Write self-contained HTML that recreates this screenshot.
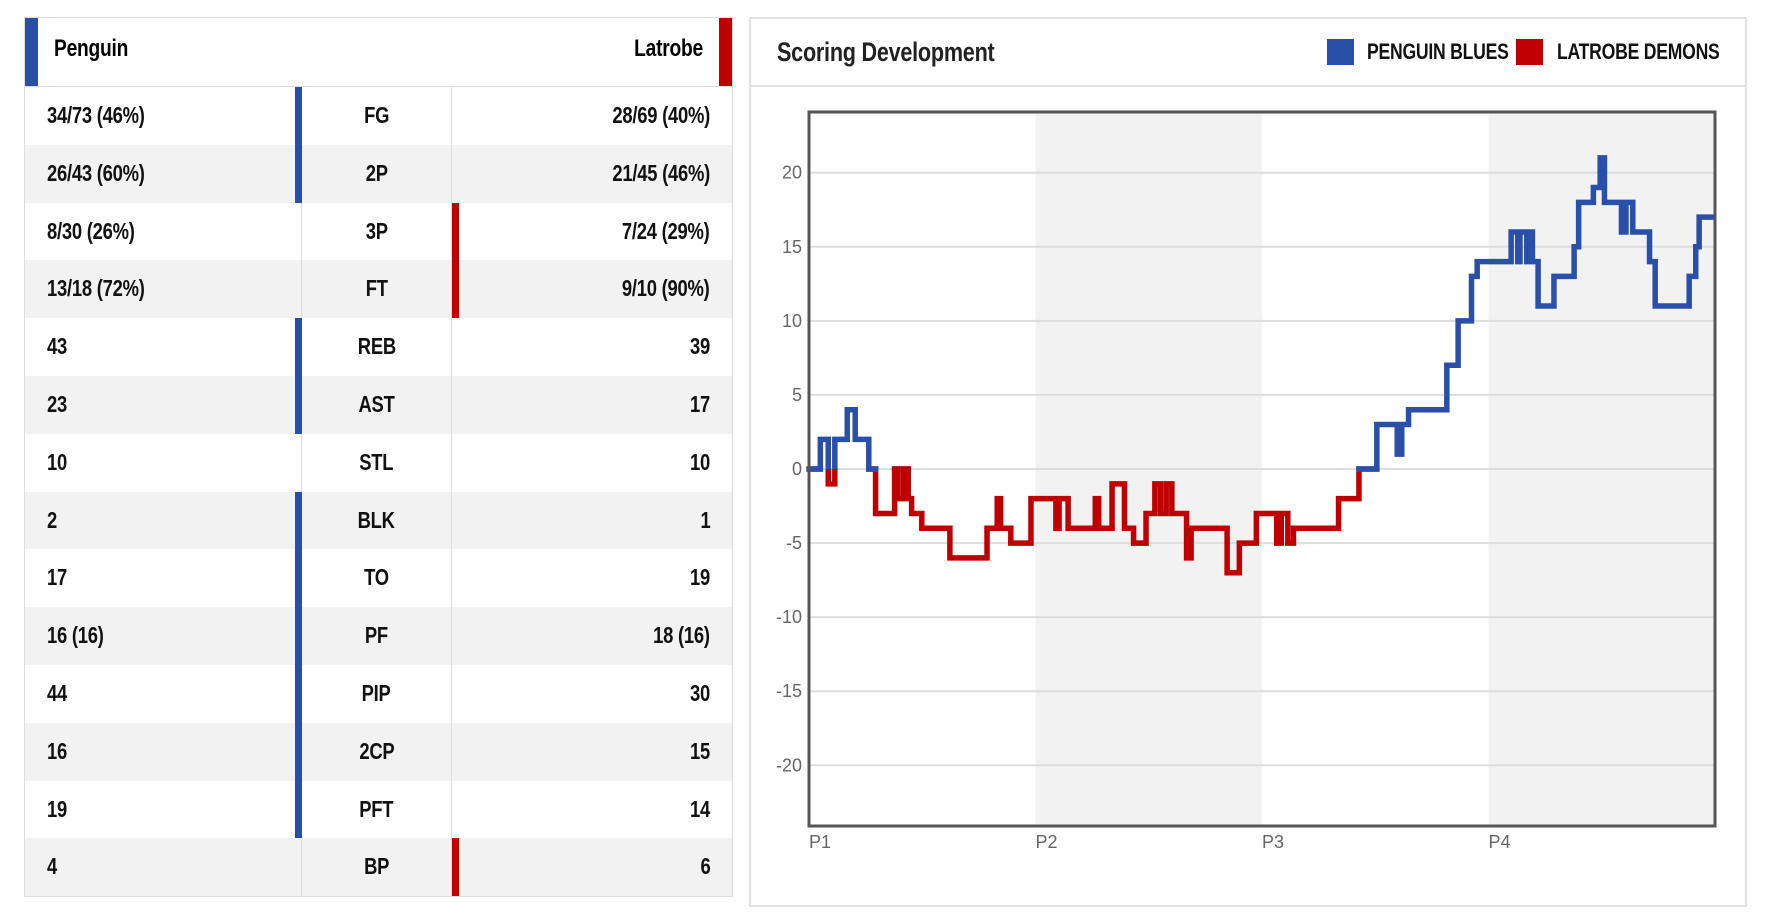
<!DOCTYPE html>
<html><head><meta charset="utf-8">
<style>
body{margin:0;width:1765px;height:923px;background:#fff;font-family:"Liberation Sans",sans-serif;overflow:hidden;position:relative}
.n{display:inline-block;transform:scaleX(.8);letter-spacing:-0.3px}
.tbl{position:absolute;left:24px;top:17px;width:709px;border:1px solid #ddd;box-sizing:border-box}
.hdr{position:relative;height:68px;border-bottom:1px solid #ddd;font-weight:bold;font-size:24px}
.row{position:relative;height:57.8px;font-weight:bold;font-size:23px;color:#111}
.row:nth-child(even){background:#f2f2f2}
.c{position:absolute;top:0;height:100%;line-height:57px}
.mid{left:276px;width:151px;text-align:center;border-left:1px solid #ddd;border-right:1px solid #ddd;height:100%;box-sizing:border-box}
.bar{position:absolute;top:0;width:7px;height:100%}
.panel{position:absolute;left:749px;top:17px;width:998px;height:890px;border:2px solid #e2e2e2;box-sizing:border-box}
</style></head><body>
<div class="tbl">
 <div class="hdr">
  <div style="position:absolute;left:0;top:0;width:13px;height:68px;background:#2a4fa8"></div>
  <div style="position:absolute;left:29px;top:0;line-height:62px"><span class="n" style="transform-origin:left">Penguin</span></div>
  <div style="position:absolute;right:29px;top:0;line-height:62px"><span class="n" style="transform-origin:right">Latrobe</span></div>
  <div style="position:absolute;right:0;top:0;width:13px;height:68px;background:#c00000"></div>
 </div>
 <div id="rows"></div>
</div>
<div class="panel">
 <div style="position:absolute;left:0;top:0;width:994px;height:66px;border-bottom:2px solid #e2e2e2;white-space:nowrap">
  <div style="position:absolute;left:26px;top:0;line-height:66px;font-weight:bold;font-size:27px;color:#222"><span class="n" style="transform-origin:left">Scoring Development</span></div>
  <div style="position:absolute;left:576px;top:20px;width:27px;height:26px;background:#2a4fa8"></div>
  <div style="position:absolute;left:616px;top:0;line-height:66px;font-weight:bold;font-size:22px;color:#111"><span class="n" style="transform-origin:left">PENGUIN BLUES</span></div>
  <div style="position:absolute;left:765px;top:20px;width:27px;height:26px;background:#c00000"></div>
  <div style="position:absolute;left:806px;top:0;line-height:66px;font-weight:bold;font-size:22px;color:#111"><span class="n" style="transform-origin:left">LATROBE DEMONS</span></div>
 </div>
</div>
<svg id="chart" width="1765" height="923" style="position:absolute;left:0;top:0"></svg>
<script>
const statLabels=["FG","2P","3P","FT","REB","AST","STL","BLK","TO","PF","PIP","2CP","PFT","BP"];
const penguinVals=["34/73 (46%)","26/43 (60%)","8/30 (26%)","13/18 (72%)","43","23","10","2","17","16 (16)","44","16","19","4"];
const latrobeVals=["28/69 (40%)","21/45 (46%)","7/24 (29%)","9/10 (90%)","39","17","10","1","19","18 (16)","30","15","14","6"];
const leaders=["P","P","L","L","P","P","","P","P","P","P","P","P","L"];
const rows=document.getElementById('rows');
statLabels.forEach((s,i)=>{
 const r=document.createElement('div');r.className='row';
 
 
 r.innerHTML='<div class="c" style="left:22px"><span class="n" style="transform-origin:left">'+penguinVals[i]+'</span></div>'+
 '<div class="c mid"><span class="n">'+s+'</span></div>'+
 '<div class="c" style="right:22px"><span class="n" style="transform-origin:right">'+latrobeVals[i]+'</span></div>'+
 (leaders[i]=='P'?'<div class="bar" style="left:270px;background:#2a4fa8"></div>':'')+
 (leaders[i]=='L'?'<div class="bar" style="left:427px;background:#c00000"></div>':'');
 rows.appendChild(r);
});

const times=[0,0.5,0.85,1.14,1.69,2.04,2.64,2.94,3.78,3.93,4.18,4.38,4.53,4.98,6.22,7.86,8.31,8.46,8.91,9.8,10.9,11.04,11.44,12.64,12.79,13.38,13.93,14.33,14.88,15.27,15.52,15.77,16.02,16.67,16.87,18.46,19.0,19.75,20.65,20.85,21.14,21.39,23.38,24.28,25.07,25.97,26.17,26.47,28.16,28.66,29.25,29.5,31.0,31.29,31.39,31.69,31.79,31.94,32.19,32.89,33.78,33.98,34.63,34.93,35.12,35.87,36.07,36.37,37.11,37.36,38.86,39.15,39.3];
const margins=[0,2,-1,2,4,2,0,-3,0,-2,0,-2,-3,-4,-6,-4,-2,-4,-5,-2,-4,-2,-4,-2,-4,-1,-4,-5,-3,-1,-3,-1,-3,-6,-4,-7,-5,-3,-5,-3,-5,-4,-2,0,3,1,3,4,7,10,13,14,16,14,16,14,16,14,11,13,15,18,19,21,18,16,18,16,14,11,13,15,17];
const yTicks=[20,15,10,5,0,-5,-10,-15,-20];
const periods=["P1","P2","P3","P4"];
const totalMin=40, yMin=-24.1, yMax=24.1;
const PL=809,PR=1715,PT=112,PB=826;
const X=t=>PL+t/totalMin*(PR-PL);
const Y=v=>PT+(yMax-v)/(yMax-yMin)*(PB-PT);
const NS='http://www.w3.org/2000/svg';
const svg=document.getElementById('chart');
function el(tag,attrs){const e=document.createElementNS(NS,tag);for(const k in attrs)e.setAttribute(k,attrs[k]);svg.appendChild(e);return e;}
periods.forEach((p,i)=>{
 if(i%2==1){const b=el('rect',{x:X(i*10),y:PT,width:X((i+1)*10)-X(i*10),height:PB-PT,fill:'#f2f2f2'});
 
 }
 const t=el('text',{x:X(i*10),y:PB+22,'font-size':18,fill:'#666','font-family':'Liberation Sans, sans-serif'});t.textContent=p;
 
 
});
yTicks.forEach(v=>{
 const g=el('line',{x1:PL,x2:PR,y1:Y(v),y2:Y(v),stroke:'#ddd','stroke-width':2});
 
 
 const t=el('text',{x:PL-7,y:Y(v)+6,'font-size':18,fill:'#666','text-anchor':'end','font-family':'Liberation Sans, sans-serif'});t.textContent=v;
 
 
});
const defs=el('defs',{});
defs.innerHTML='<clipPath id="cu"><rect x="0" y="0" width="1765" height="'+Y(0)+'"/></clipPath><clipPath id="cd"><rect x="0" y="'+Y(0)+'" width="1765" height="923"/></clipPath>';
let d='';
times.forEach((t,i)=>{
 const x=X(t),y=Y(margins[i]);
 d+=(i==0?'M':'L')+x+' '+Y(i==0?margins[0]:margins[i-1])+' L'+x+' '+y+' ';
});
d+='L'+X(totalMin)+' '+Y(margins[margins.length-1]);
const lu=el('path',{d:d,fill:'none',stroke:'#2a4fa8','stroke-width':5.5,'clip-path':'url(#cu)'});


const ld=el('path',{d:d,fill:'none',stroke:'#c00000','stroke-width':5.5,'clip-path':'url(#cd)'});


margins.forEach((m,i)=>{
 if(m!==0)return;
 const prev=i>0?margins[i-1]:0,next=i<margins.length-1?margins[i+1]:0;
 const col=(prev>0||next>0)?'#2a4fa8':'#c00000';
 const t2=i<times.length-1?times[i+1]:totalMin;
 const z=el('line',{x1:X(times[i])-2.75,x2:X(t2)+2.75,y1:Y(0),y2:Y(0),stroke:col,'stroke-width':5.5});
 
 
});
const fr=el('rect',{x:PL,y:PT,width:PR-PL,height:PB-PT,fill:'none',stroke:'#555','stroke-width':3});


</script>
</body></html>
